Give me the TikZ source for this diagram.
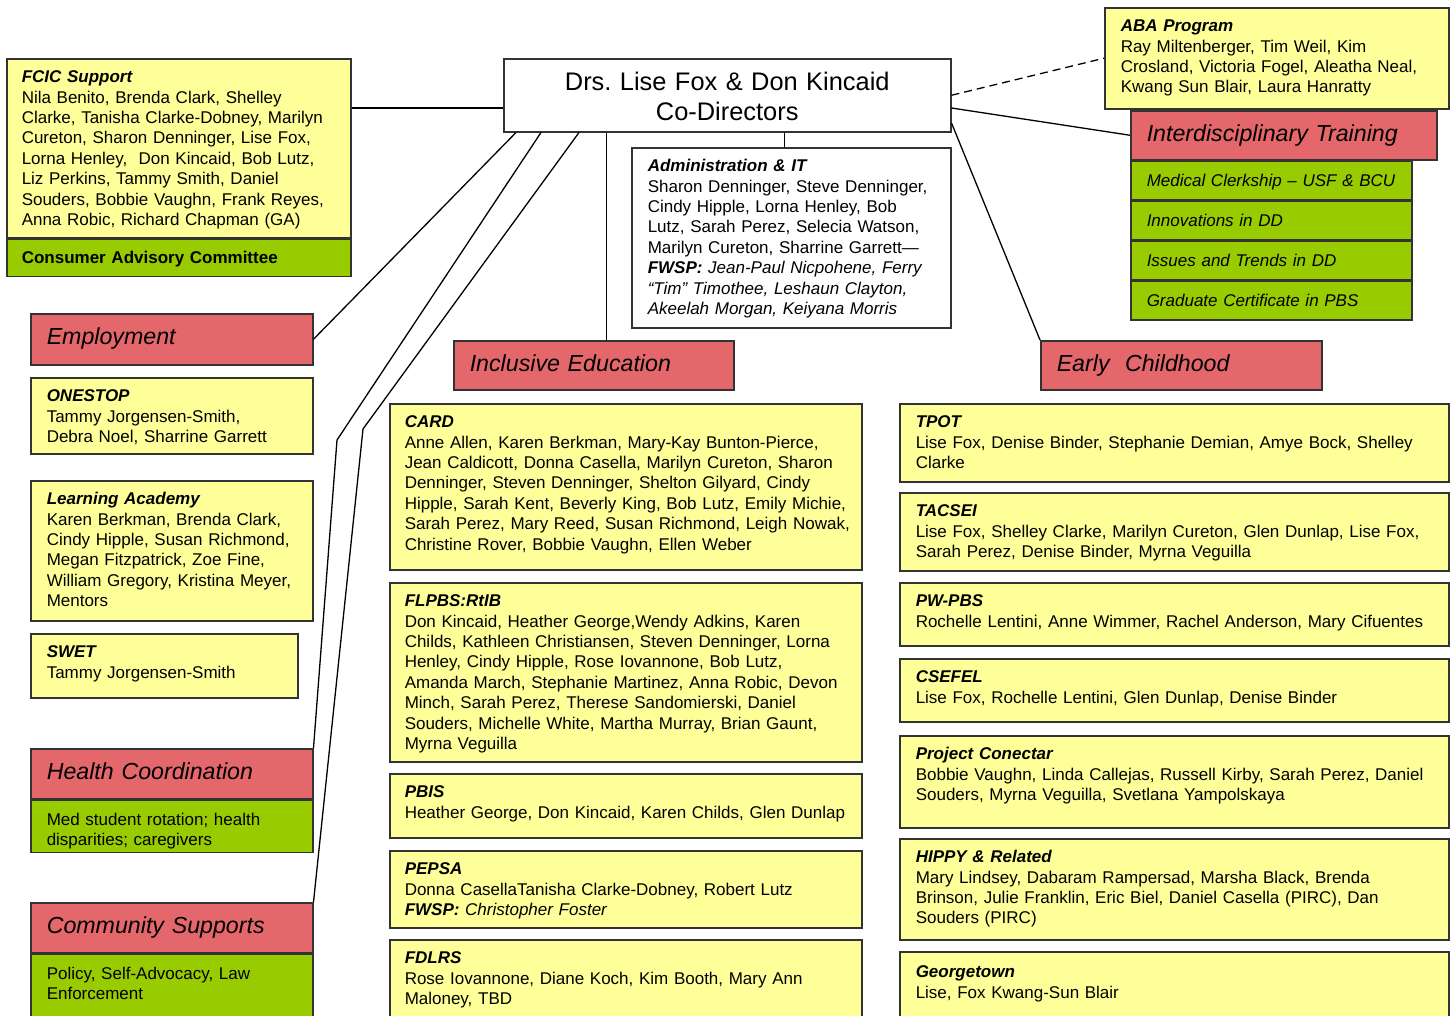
\documentclass[tikz,border=0pt]{standalone}
\usepackage{fontspec}
\setmainfont{Liberation Sans}
\usepackage{tikz}
\usetikzlibrary{positioning}

\definecolor{unityellow}{HTML}{FFFF99}
\definecolor{areared}{HTML}{E3676B}
\definecolor{subgreen}{HTML}{99CC00}

\frenchspacing
\newcommand{\bodysize}{\fontsize{17pt}{20.4pt}\selectfont}
\newcommand{\headsize}{\fontsize{23.2pt}{28pt}\selectfont}
\newcommand{\chiefsize}{\fontsize{25.4pt}{30pt}\selectfont}
\newcommand{\unittitle}[1]{\textbf{\textit{#1}}}
\newcommand{\memberlist}[1]{\begin{tabular}[t]{@{}l@{}}#1\end{tabular}}

\tikzstyle{chart}=[x=1pt, y=-1pt, font=\bodysize]
\tikzstyle{unitbox}=[rectangle, draw=black!80, line width=1.5pt, fill=unityellow, anchor=north west, inner xsep=15pt, inner ysep=0pt, text height=24pt]
\tikzstyle{areabox}=[unitbox, fill=areared, font=\headsize\itshape, inner xsep=16pt, text height=31pt]
\tikzstyle{subbox}=[unitbox, fill=subgreen, inner xsep=16pt, text height=25pt]
\tikzstyle{chiefbox}=[unitbox, fill=white, font=\chiefsize, align=center, inner xsep=0pt, text height=32pt]
\tikzstyle{link}=[draw=black, line width=1.3pt]

\begin{document}
\begin{tikzpicture}[chart]
	\useasboundingbox (0,0) rectangle (1455,1015);
	\clip (0,0) rectangle (1455,1015);

	%The co-directors
	\node[chiefbox, text width=447pt, text depth=41pt] (chief) at (503,58) {Drs. Lise Fox \& Don Kincaid\\Co-Directors};

	%FCIC support and advisory committee
	\node[unitbox, text width=314pt, text depth=155pt] (fcic) at (6,58) {\memberlist{\unittitle{FCIC Support}\\
		Nila Benito, Brenda Clark, Shelley\\
		Clarke, Tanisha Clarke-Dobney, Marilyn\\
		Cureton, Sharon Denninger, Lise Fox,\\
		Lorna Henley,\ \ Don Kincaid, Bob Lutz,\\
		Liz Perkins, Tammy Smith, Daniel\\
		Souders, Bobbie Vaughn, Frank Reyes,\\
		Anna Robic, Richard Chapman (GA)}};
	\node[subbox, inner xsep=15pt, text width=314pt, text height=24pt, text depth=13pt, font=\bodysize\bfseries] (cac) at (fcic.south west) {Consumer Advisory Committee};

	%ABA program
	\node[unitbox, inner xsep=16pt, text width=312pt, text depth=77pt] (aba) at (1104,7) {\memberlist{\unittitle{ABA Program}\\
		Ray Miltenberger, Tim Weil, Kim\\
		Crosland, Victoria Fogel, Aleatha Neal,\\
		Kwang Sun Blair, Laura Hanratty}};

	%Interdisciplinary training
	\node[areabox, text width=274pt, text depth=18pt] (idt) at (1130,110) {Interdisciplinary Training};
	\node[subbox, text width=249pt, text depth=13.5pt] (idt1) at (idt.south west) {\textit{Medical Clerkship -- USF \& BCU}};
	\node[subbox, text width=249pt, text depth=13.5pt] (idt2) at (idt1.south west) {\textit{Innovations in DD}};
	\node[subbox, text width=249pt, text depth=13.5pt] (idt3) at (idt2.south west) {\textit{Issues and Trends in DD}};
	\node[subbox, text width=249pt, text depth=13.5pt] (idt4) at (idt3.south west) {\textit{Graduate Certificate in PBS}};

	%Administration
	\node[unitbox, fill=white, inner xsep=16pt, text width=287pt, text depth=156pt] (admin) at (631,147) {\memberlist{\unittitle{Administration \& IT}\\
		Sharon Denninger, Steve Denninger,\\
		Cindy Hipple, Lorna Henley, Bob\\
		Lutz, Sarah Perez, Selecia Watson,\\
		Marilyn Cureton, Sharrine Garrett---\\
		\unittitle{FWSP:} \textit{Jean-Paul Nicpohene, Ferry}\\
		\textit{“Tim” Timothee, Leshaun Clayton,}\\
		\textit{Akeelah Morgan, Keiyana Morris}}};

	%Employment column
	\node[areabox, text width=250pt, text depth=20pt] (emp) at (30,313) {Employment};
	\node[unitbox, inner xsep=16pt, text width=250pt, text depth=52pt] (onestop) at (30,377) {\memberlist{\unittitle{ONESTOP}\\
		Tammy Jorgensen-Smith,\\
		Debra Noel, Sharrine Garrett}};
	\node[unitbox, inner xsep=16pt, text width=250pt, text depth=116pt] (learn) at (30,480) {\memberlist{\unittitle{Learning Academy}\\
		Karen Berkman, Brenda Clark,\\
		Cindy Hipple, Susan Richmond,\\
		Megan Fitzpatrick, Zoe Fine,\\
		William Gregory, Kristina Meyer,\\
		Mentors}};
	\node[unitbox, inner xsep=16pt, text width=235pt, text depth=40pt] (swet) at (30,633) {\memberlist{\unittitle{SWET}\\
		Tammy Jorgensen-Smith}};

	%Health and community
	\node[areabox, text width=250pt, text depth=19pt] (hc) at (30,748) {Health Coordination};
	\node[subbox, text width=250pt, text depth=27pt] (hc-sub) at (hc.south west) {\memberlist{Med student rotation; health\\
		disparities; caregivers}};
	\node[areabox, text width=250pt, text depth=19pt] (cs) at (30,902) {Community Supports};
	\node[subbox, text width=250pt, text depth=53pt] (cs-sub) at (cs.south west) {\memberlist{Policy, Self-Advocacy, Law\\
		Enforcement}};

	%Inclusive education column
	\node[areabox, text width=248pt, text depth=18pt] (ie) at (453,340) {Inclusive Education};
	\node[unitbox, text width=442pt, text depth=142pt] (card) at (389,403) {\memberlist{\unittitle{CARD}\\
		Anne Allen, Karen Berkman, Mary-Kay Bunton-Pierce,\\
		Jean Caldicott, Donna Casella, Marilyn Cureton, Sharon\\
		Denninger, Steven Denninger, Shelton Gilyard, Cindy\\
		Hipple, Sarah Kent, Beverly King, Bob Lutz, Emily Michie,\\
		Sarah Perez, Mary Reed, Susan Richmond, Leigh Nowak,\\
		Christine Rover, Bobbie Vaughn, Ellen Weber}};
	\node[unitbox, text width=442pt, text depth=155pt] (flpbs) at (389,582) {\memberlist{\unittitle{FLPBS:RtIB}\\
		Don Kincaid, Heather George,Wendy Adkins, Karen\\
		Childs, Kathleen Christiansen, Steven Denninger, Lorna\\
		Henley, Cindy Hipple, Rose Iovannone, Bob Lutz,\\
		Amanda March, Stephanie Martinez, Anna Robic, Devon\\
		Minch, Sarah Perez, Therese Sandomierski, Daniel\\
		Souders, Michelle White, Martha Murray, Brian Gaunt,\\
		Myrna Veguilla}};
	\node[unitbox, text width=442pt, text depth=40pt] (pbis) at (389,773) {\memberlist{\unittitle{PBIS}\\
		Heather George, Don Kincaid, Karen Childs, Glen Dunlap}};
	\node[unitbox, text width=442pt, text depth=53pt] (pepsa) at (389,850) {\memberlist{\unittitle{PEPSA}\\
		Donna CasellaTanisha Clarke-Dobney, Robert Lutz\\
		\unittitle{FWSP:} \textit{Christopher Foster}}};
	\node[unitbox, text width=442pt, text depth=67pt] (fdlrs) at (389,939) {\memberlist{\unittitle{FDLRS}\\
		Rose Iovannone, Diane Koch, Kim Booth, Mary Ann\\
		Maloney, TBD}};

	%Early childhood column
	\node[areabox, text width=249pt, text depth=18pt] (ec) at (1040,340) {Early\ \ Childhood};
	\node[unitbox, inner xsep=16pt, text width=517pt, text depth=54pt] (tpot) at (899,403) {\memberlist{\unittitle{TPOT}\\
		Lise Fox, Denise Binder, Stephanie Demian, Amye Bock, Shelley\\
		Clarke}};
	\node[unitbox, inner xsep=16pt, text width=517pt, text depth=54pt] (tacsei) at (899,492) {\memberlist{\unittitle{TACSEI}\\
		Lise Fox, Shelley Clarke, Marilyn Cureton, Glen Dunlap, Lise Fox,\\
		Sarah Perez, Denise Binder, Myrna Veguilla}};
	\node[unitbox, inner xsep=16pt, text width=517pt, text depth=39pt] (pwpbs) at (899,582) {\memberlist{\unittitle{PW-PBS}\\
		Rochelle Lentini, Anne Wimmer, Rachel Anderson, Mary Cifuentes}};
	\node[unitbox, inner xsep=16pt, text width=517pt, text depth=39pt] (csefel) at (899,658) {\memberlist{\unittitle{CSEFEL}\\
		Lise Fox, Rochelle Lentini, Glen Dunlap, Denise Binder}};
	\node[unitbox, inner xsep=16pt, text width=517pt, text depth=68pt] (conectar) at (899,735) {\memberlist{\unittitle{Project Conectar}\\
		Bobbie Vaughn, Linda Callejas, Russell Kirby, Sarah Perez, Daniel\\
		Souders, Myrna Veguilla, Svetlana Yampolskaya}};
	\node[unitbox, inner xsep=16pt, text width=517pt, text depth=77pt] (hippy) at (899,838) {\memberlist{\unittitle{HIPPY \& Related}\\
		Mary Lindsey, Dabaram Rampersad, Marsha Black, Brenda\\
		Brinson, Julie Franklin, Eric Biel, Daniel Casella (PIRC), Dan\\
		Souders (PIRC)}};
	\node[unitbox, inner xsep=16pt, text width=517pt, text height=26pt, text depth=53pt] (gtown) at (899,951) {\memberlist{\unittitle{Georgetown}\\
		Lise, Fox Kwang-Sun Blair}};

	%Connectors from the co-directors
	\draw[link] ([yshift=-50pt]fcic.north east) -- ([yshift=-50pt]chief.north west);
	\draw[link, dash pattern=on 8pt off 5pt] (chief.east) -- (aba.west);
	\draw[link] ([yshift=-50pt]chief.north east) -- (idt.west);
	\draw[link] ([yshift=-65pt]chief.north east) -- (ec.north west);
	\draw[link] ([xshift=-6.5pt]admin.north) -- ([xshift=-6.5pt]admin.north |- chief.south);
	\draw[link] ([xshift=13pt]ie.north) -- ([xshift=13pt]ie.north |- chief.south);
	\draw[link] ([xshift=13pt]chief.south west) -- (emp.east);
	\coordinate (bend-hc) at (337,440);
	\draw[link] ([xshift=38pt]chief.south west) -- (bend-hc) -- (hc.north east);
	\coordinate (bend-cs) at (363,429);
	\draw[link] ([xshift=76pt]chief.south west) -- (bend-cs) -- (cs.north east);
\end{tikzpicture}
\end{document}
